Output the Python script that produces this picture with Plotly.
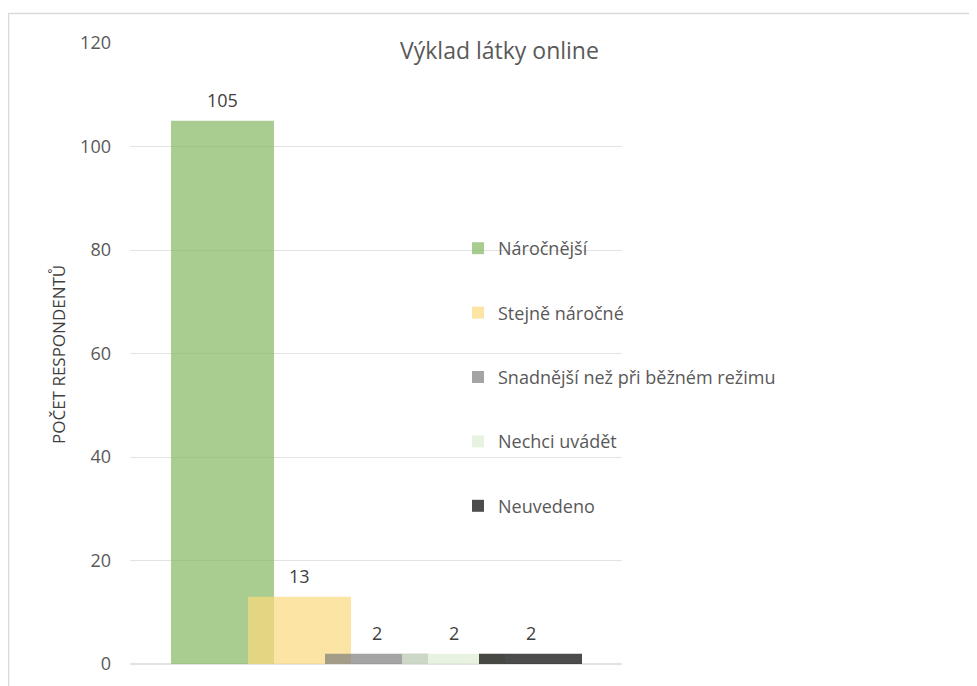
import plotly.graph_objects as go

# Data
kategorie = ["Výklad látky online"]
odpovedi = ["Náročnější", "Stejně náročné", "Snadnější než při běžném režimu",
            "Nechci uvádět", "Neuvedeno"]
pocty = [105, 13, 2, 2, 2]
barvy = ["rgba(132,184,98,0.7)", "rgba(251,218,125,0.7)", "rgba(126,126,126,0.7)",
         "rgba(222,236,212,0.7)", "rgba(0,0,0,0.7)"]

# page has an 8px body margin -> work in page px, convert to figure px
OFF = 8
W, H = 977 - OFF, 686 - OFF
L, R, T, B = 130 - OFF, 622 - OFF, 43 - OFF, 664 - OFF
sirka = 103 / (R - L)
krok = 77 / (R - L)
start = (171 - OFF - L) / (R - L) - 0.5

FONT = "Open Sans"


def px_x(p):
    return (p - OFF - L) / (R - L)


def px_y(p):
    return (B - (p - OFF)) / (B - T)


fig = go.Figure()
popisky = []
for i, (nazev, hodnota, barva) in enumerate(zip(odpovedi, pocty, barvy)):
    posun = start + i * krok
    fig.add_trace(go.Bar(
        x=kategorie,
        y=[hodnota],
        name=nazev,
        legendgroup=nazev,
        width=sirka,
        offset=posun,
        marker=dict(color=barva, line=dict(width=0)),
    ))
    popisky.append(dict(
        text=str(hodnota), x=posun + sirka / 2, y=hodnota,
        xref="x", yref="y", showarrow=False, xanchor="center",
        yanchor="middle", yshift=21,
        font=dict(family=FONT, size=18, color="#404040"),
    ))

fig.update_layout(
    width=W, height=H,
    margin=dict(l=L, r=W - R, t=T, b=H - B),
    paper_bgcolor="white", plot_bgcolor="white",
    barmode="overlay",
    showlegend=True,
    legend=dict(
        x=px_x(458), y=px_y(230), xanchor="left", yanchor="top",
        font=dict(family=FONT, size=18, color="#595959"),
        tracegroupgap=38, bgcolor="rgba(0,0,0,0)",
        itemclick=False,
    ),
    xaxis=dict(range=[-0.5, 0.5], showticklabels=False, showgrid=False,
               zeroline=False, showline=False, fixedrange=True),
    yaxis=dict(range=[0, 120], dtick=20, showgrid=True, gridcolor="#E3E3E3",
               gridwidth=1, zeroline=True, zerolinecolor="#E3E3E3",
               showline=False, ticklabelstandoff=18,
               tickfont=dict(family=FONT, size=18, color="#595959")),
    annotations=popisky + [
        dict(text="Výklad látky online", x=px_x(499), y=px_y(50),
             xref="paper", yref="paper", showarrow=False,
             xanchor="center", yanchor="middle",
             font=dict(family=FONT, size=23, color="#595959")),
        dict(text="POČET RESPONDENTŮ", x=px_x(58), y=px_y(355),
             xref="paper", yref="paper", showarrow=False, textangle=-90,
             xanchor="center", yanchor="middle",
             font=dict(family=FONT, size=17, color="#404040")),
    ],
    shapes=[
        dict(type="rect", xref="paper", yref="paper",
             x0=px_x(8.5), x1=px_x(976.5), y0=px_y(720), y1=px_y(13.5),
             line=dict(color="#D9D9D9", width=1.5), fillcolor="rgba(0,0,0,0)",
             layer="below"),
    ],
)

fig.write_html("out.html")
